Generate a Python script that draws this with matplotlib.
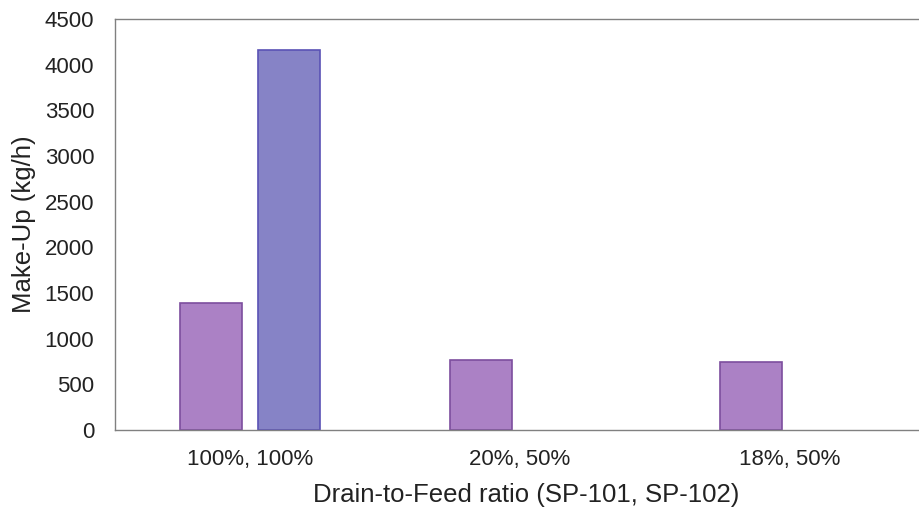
import matplotlib
matplotlib.use("Agg")
import matplotlib.pyplot as plt
import numpy as np

categories = ["100%, 100%", "20%, 50%", "18%, 50%"]
series_a = [1390, 766, 745]
series_b = [4160, None, None]
y_ticks = [0, 500, 1000, 1500, 2000, 2500, 3000, 3500, 4000, 4500]

plt.rcParams['font.family'] = ['Liberation Sans', 'DejaVu Sans']

fig = plt.figure(figsize=(9.19, 5.08), dpi=100)
ax = fig.add_axes([115/919, 1-430/508, 810/919, 411/508])

x = np.arange(len(categories))
w = 0.23
ax.bar(x - 0.143, series_a, width=w, color="#AB81C5", edgecolor="#7D4E9E", linewidth=1.2)
xb = [xi + 0.146 for xi, v in zip(x, series_b) if v is not None]
vb = [v for v in series_b if v is not None]
ax.bar(xb, vb, width=w, color="#8683C6", edgecolor="#5A52B5", linewidth=1.2)

ax.set_xlim(-0.5, 2.5)
ax.set_ylim(0, 4500)
ax.set_yticks(y_ticks)
ax.set_xticks(x)
ax.set_xticklabels(categories)
ax.tick_params(axis='both', length=0, labelsize=16, colors="#222222")
ax.tick_params(axis='x', pad=14)
ax.tick_params(axis='y', pad=15)
for s in ax.spines.values():
    s.set_color("#808080")
    s.set_linewidth(1.0)
ax.set_ylabel("Make-Up (kg/h)", fontsize=18.5, color="#222222", labelpad=6)
ax.set_xlabel("Drain-to-Feed ratio (SP-101, SP-102)", fontsize=18.5, color="#222222", labelpad=9)
ax.xaxis.label.set_x(0.508)

fig.savefig("out.png", dpi=100)
